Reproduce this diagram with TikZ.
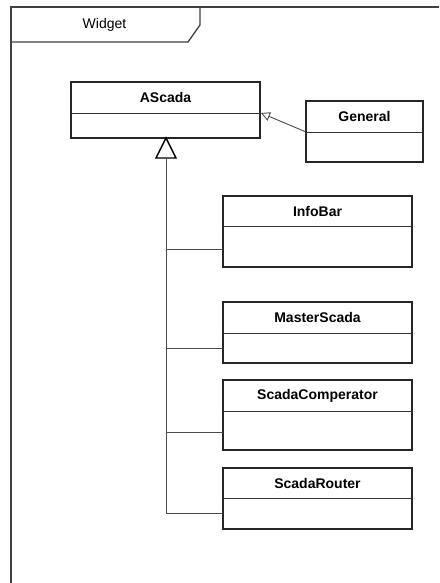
\documentclass[tikz,border=0pt]{standalone}
\usepackage{fontspec}
\setmainfont{Liberation Sans}
\usetikzlibrary{arrows.meta}
\tikzset{
  x=1pt, y=-1pt,
  frameline/.style={draw=black!75, line width=1.3pt},
  box/.style={draw=black!85, line width=1.1pt, inner sep=0pt, outer sep=0pt, fill=white},
  divline/.style={draw=black!80, line width=0.9pt},
  title/.style={font=\fontsize{14}{16}\selectfont\bfseries, inner sep=0pt},
  conn/.style={draw=black!70, line width=0.9pt},
}
\newcommand\umlcls[7]{%
  \node[box, minimum width={#4-#2}, minimum height={#5-#3}] (#1) at ({(#2+#4)/2},{(#3+#5)/2}) {};
  \draw[divline] (#2,#6) -- (#4,#6);
  \node[title] (#1-t) at ({(#2+#4)/2},{(#3+#6)/2}) {#7};
}
\begin{document}
\begin{tikzpicture}
\useasboundingbox (0,0) rectangle (439,583);
% frame
\draw[frameline] (11,583) -- (11,7) -- (439,7);
\draw[frameline] (200,7) -- (200,25) -- (188,42) -- (11,42);
\node[font=\fontsize{14}{16}\selectfont, inner sep=0pt] (widget) at (104.5,25) {Widget};
% classes
\umlcls{ascada}{71}{82}{260}{138}{113}{AScada}
\umlcls{general}{306}{101}{423}{162}{132}{General}
\umlcls{infobar}{223}{196}{412}{267}{226}{InfoBar}
\umlcls{master}{223}{302}{412}{363}{333}{MasterScada}
\umlcls{comp}{223}{380}{412}{450}{411}{ScadaComperator}
\umlcls{router}{223}{468}{412}{529}{498}{ScadaRouter}
% generalization trunk
\coordinate (apex) at (166,138);
\coordinate (tb) at (166,158);
\coordinate (j1) at (166,249);
\coordinate (j2) at (166,348);
\coordinate (j3) at (166,432);
\coordinate (j4) at (166,513);
\draw[draw=black, line width=1.4pt, fill=white] (apex) -- (156,158) -- (176,158) -- cycle;
\draw[conn] (tb) -- (j4);
\draw[conn] (j1) -- (j1 -| infobar.west);
\draw[conn] (j2) -- (j2 -| master.west);
\draw[conn] (j3) -- (j3 -| comp.west);
\draw[conn] (j4) -- (j4 -| router.west);
% General -> AScada
\coordinate (gs) at (306,132);
\coordinate (ge) at (261,113);
\draw[conn, -{Triangle[open, length=9pt, width=9pt]}] (gs) -- (ge);
\end{tikzpicture}
\end{document}
